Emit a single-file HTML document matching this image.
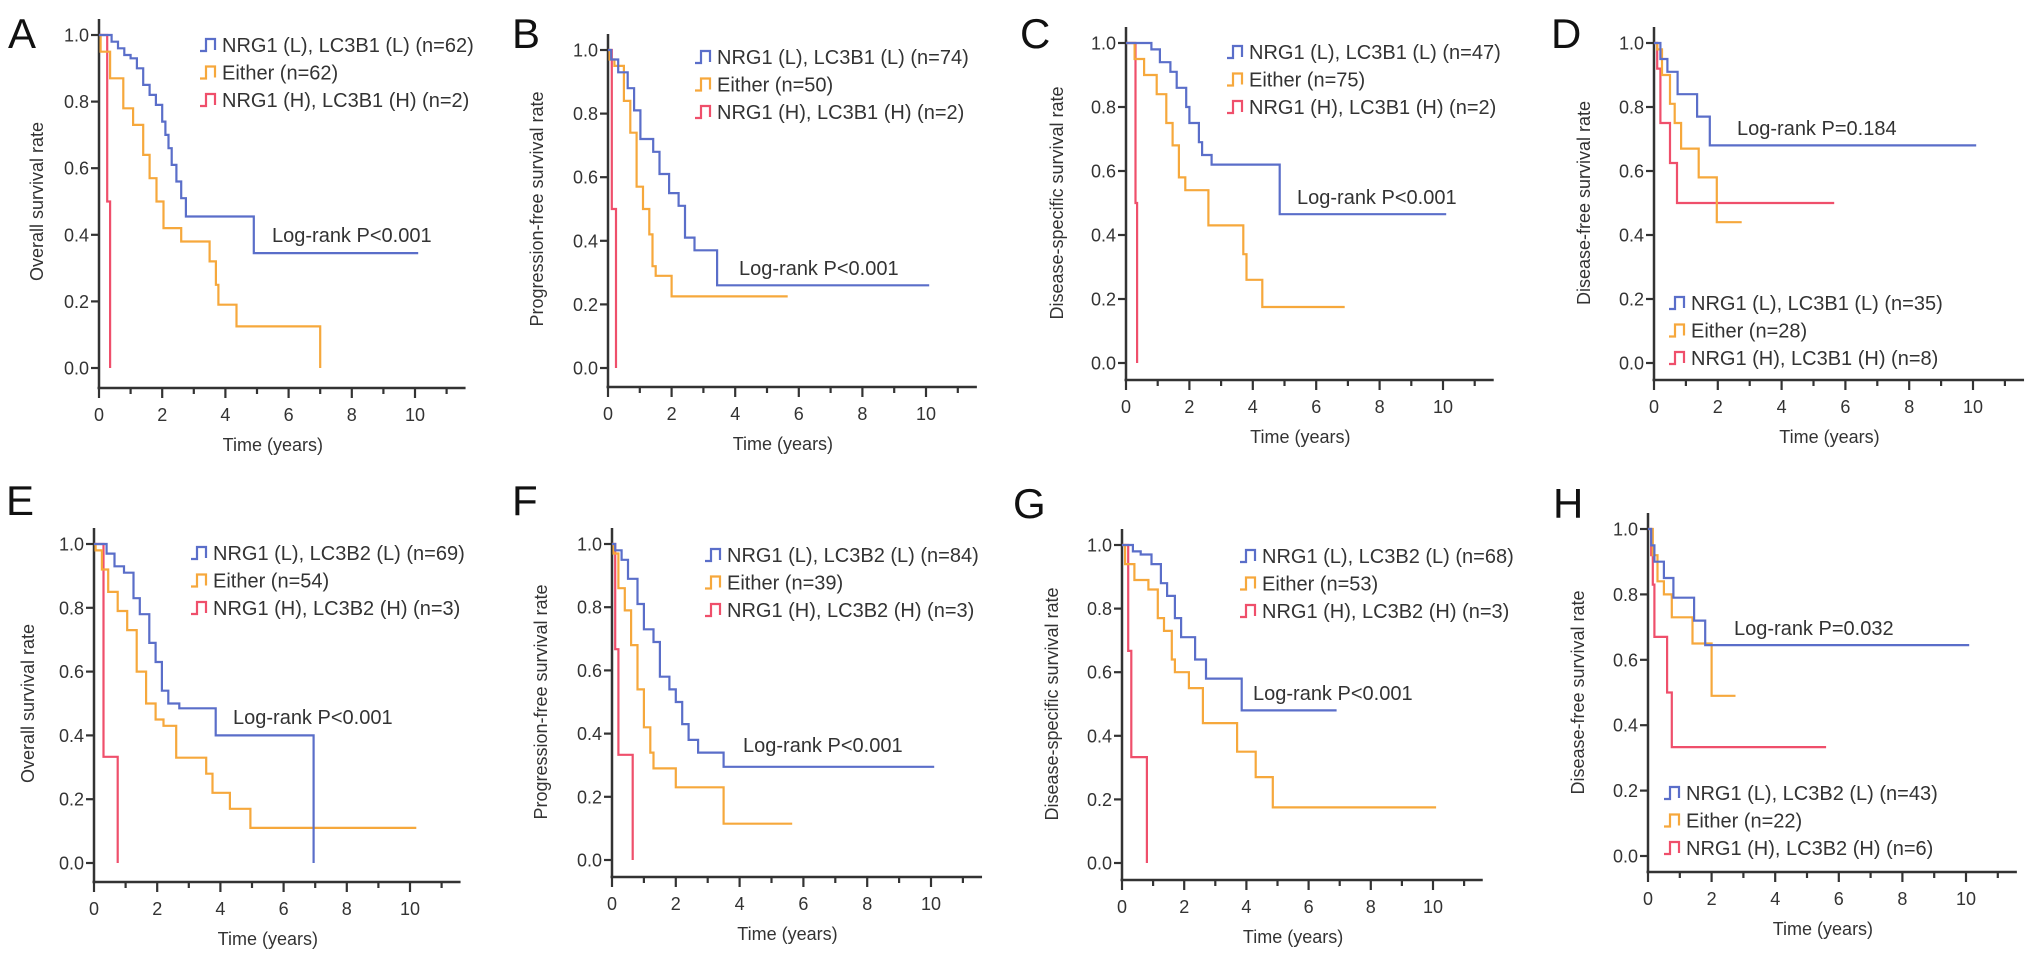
<!DOCTYPE html>
<html><head><meta charset="utf-8">
<style>
html,body{margin:0;padding:0;background:#fff;}
svg{display:block;font-family:"Liberation Sans",Arial,sans-serif;}
</style></head>
<body>
<svg id="fig" width="2032" height="962" viewBox="0 0 2032 962" xmlns="http://www.w3.org/2000/svg"></svg>
<script>
// ---- Data (time in years, survival rate) ----
const A_blue_t=[0,0.4,0.6,0.8,1.0,1.2,1.4,1.6,1.8,2.0,2.1,2.2,2.3,2.45,2.6,2.75,4.9,10.1];
const A_blue_s=[1,0.98,0.96,0.94,0.93,0.90,0.85,0.82,0.79,0.74,0.70,0.66,0.61,0.56,0.51,0.455,0.345,0.345];
const A_orange_t=[0,0.05,0.35,0.77,1.08,1.4,1.6,1.82,2.04,2.6,3.5,3.7,3.78,4.35,7.0];
const A_orange_s=[1,0.95,0.87,0.78,0.73,0.64,0.57,0.5,0.42,0.38,0.32,0.25,0.19,0.125,0];
const A_red_t=[0,0.26,0.35];
const A_red_s=[1,0.5,0];

const B_blue_t=[0,0.1,0.32,0.62,0.82,1.02,1.42,1.62,1.92,2.22,2.42,2.72,3.43,10.1];
const B_blue_s=[1,0.97,0.93,0.88,0.81,0.72,0.68,0.61,0.55,0.51,0.41,0.37,0.26,0.26];
const B_orange_t=[0,0.05,0.2,0.5,0.7,0.9,1.1,1.3,1.4,1.5,2.0,5.65];
const B_orange_s=[1,0.97,0.95,0.84,0.74,0.57,0.5,0.42,0.32,0.29,0.225,0.225];
const B_red_t=[0,0.12,0.25];
const B_red_s=[1,0.5,0];

const C_blue_t=[0,0.8,1.07,1.4,1.6,1.9,2.0,2.3,2.4,2.7,4.85,10.1];
const C_blue_s=[1,0.98,0.94,0.91,0.86,0.8,0.75,0.69,0.65,0.62,0.465,0.465];
const C_orange_t=[0,0.27,0.57,0.97,1.27,1.47,1.67,1.87,2.6,3.7,3.8,4.3,6.9];
const C_orange_s=[1,0.95,0.9,0.84,0.75,0.68,0.58,0.54,0.43,0.34,0.26,0.175,0.175];
const C_red_t=[0,0.3,0.35];
const C_red_s=[1,0.5,0];

const D_blue_t=[0,0.2,0.42,0.74,1.35,1.75,10.1];
const D_blue_s=[1,0.95,0.91,0.84,0.77,0.68,0.68];
const D_orange_t=[0,0.1,0.25,0.5,0.65,0.85,1.4,1.97,2.75];
const D_orange_s=[1,0.98,0.9,0.81,0.75,0.67,0.58,0.44,0.44];
const D_red_t=[0,0.1,0.2,0.5,0.72,5.65];
const D_red_s=[1,0.92,0.75,0.625,0.5,0.5];

const E_blue_t=[0,0.4,0.65,0.95,1.25,1.45,1.75,1.95,2.15,2.35,2.7,3.85,6.95];
const E_blue_s=[1,0.97,0.93,0.91,0.83,0.78,0.69,0.63,0.54,0.5,0.485,0.40,0];
const E_orange_t=[0,0.05,0.25,0.45,0.75,1.05,1.35,1.65,1.95,2.2,2.6,3.55,3.75,4.3,4.95,10.2];
const E_orange_s=[1,0.98,0.92,0.85,0.79,0.73,0.6,0.5,0.45,0.43,0.33,0.28,0.22,0.17,0.11,0.11];
const E_red_t=[0,0.3,0.75];
const E_red_s=[1,0.333,0];

const F_blue_t=[0,0.1,0.3,0.5,0.8,1.0,1.3,1.5,1.8,2.0,2.2,2.4,2.7,3.5,10.1];
const F_blue_s=[1,0.98,0.95,0.89,0.81,0.73,0.69,0.58,0.54,0.5,0.43,0.38,0.34,0.295,0.295];
const F_orange_t=[0,0.05,0.2,0.4,0.6,0.8,1.0,1.2,1.3,2.0,3.5,5.65];
const F_orange_s=[1,0.97,0.86,0.79,0.68,0.54,0.42,0.34,0.29,0.23,0.115,0.115];
const F_red_t=[0,0.1,0.2,0.65];
const F_red_s=[1,0.667,0.333,0];

const G_blue_t=[0,0.35,0.6,0.95,1.25,1.45,1.7,1.9,2.1,2.35,2.7,3.85,6.9];
const G_blue_s=[1,0.98,0.97,0.94,0.88,0.84,0.77,0.71,0.71,0.64,0.58,0.48,0.48];
const G_orange_t=[0,0.1,0.4,0.85,1.15,1.35,1.6,1.7,2.15,2.6,3.7,4.3,4.85,10.1];
const G_orange_s=[1,0.94,0.89,0.86,0.77,0.73,0.64,0.6,0.55,0.44,0.35,0.27,0.175,0.175];
const G_red_t=[0,0.2,0.3,0.8];
const G_red_s=[1,0.667,0.333,0];

const H_blue_t=[0,0.1,0.2,0.5,0.8,1.45,1.8,10.1];
const H_blue_s=[1,0.95,0.9,0.85,0.79,0.72,0.645,0.645];
const H_orange_t=[0,0.15,0.3,0.5,0.75,1.4,2.0,2.75];
const H_orange_s=[1,0.92,0.84,0.8,0.73,0.65,0.49,0.49];
const H_red_t=[0,0.1,0.15,0.2,0.6,0.75,5.6];
const H_red_s=[1,0.92,0.83,0.67,0.5,0.333,0.333];

const xTickLabels=["0","2","4","6","8","10"];
const yTickLabels=["0.0","0.2","0.4","0.6","0.8","1.0"];

const panels=[
 {id:"A",ylab:"Overall survival rate",leg:["NRG1 (L), LC3B1 (L) (n=62)","Either (n=62)","NRG1 (H), LC3B1 (H) (n=2)"],p:"Log-rank P<0.001",
  data:[[A_blue_t,A_blue_s],[A_orange_t,A_orange_s],[A_red_t,A_red_s]]},
 {id:"B",ylab:"Progression-free survival rate",leg:["NRG1 (L), LC3B1 (L) (n=74)","Either (n=50)","NRG1 (H), LC3B1 (H) (n=2)"],p:"Log-rank P<0.001",
  data:[[B_blue_t,B_blue_s],[B_orange_t,B_orange_s],[B_red_t,B_red_s]]},
 {id:"C",ylab:"Disease-specific survival rate",leg:["NRG1 (L), LC3B1 (L) (n=47)","Either (n=75)","NRG1 (H), LC3B1 (H) (n=2)"],p:"Log-rank P<0.001",
  data:[[C_blue_t,C_blue_s],[C_orange_t,C_orange_s],[C_red_t,C_red_s]]},
 {id:"D",ylab:"Disease-free survival rate",leg:["NRG1 (L), LC3B1 (L) (n=35)","Either (n=28)","NRG1 (H), LC3B1 (H) (n=8)"],p:"Log-rank P=0.184",
  data:[[D_blue_t,D_blue_s],[D_orange_t,D_orange_s],[D_red_t,D_red_s]]},
 {id:"E",ylab:"Overall survival rate",leg:["NRG1 (L), LC3B2 (L) (n=69)","Either (n=54)","NRG1 (H), LC3B2 (H) (n=3)"],p:"Log-rank P<0.001",
  data:[[E_blue_t,E_blue_s],[E_orange_t,E_orange_s],[E_red_t,E_red_s]]},
 {id:"F",ylab:"Progression-free survival rate",leg:["NRG1 (L), LC3B2 (L) (n=84)","Either (n=39)","NRG1 (H), LC3B2 (H) (n=3)"],p:"Log-rank P<0.001",
  data:[[F_blue_t,F_blue_s],[F_orange_t,F_orange_s],[F_red_t,F_red_s]]},
 {id:"G",ylab:"Disease-specific survival rate",leg:["NRG1 (L), LC3B2 (L) (n=68)","Either (n=53)","NRG1 (H), LC3B2 (H) (n=3)"],p:"Log-rank P<0.001",
  data:[[G_blue_t,G_blue_s],[G_orange_t,G_orange_s],[G_red_t,G_red_s]]},
 {id:"H",ylab:"Disease-free survival rate",leg:["NRG1 (L), LC3B2 (L) (n=43)","Either (n=22)","NRG1 (H), LC3B2 (H) (n=6)"],p:"Log-rank P=0.032",
  data:[[H_blue_t,H_blue_s],[H_orange_t,H_orange_s],[H_red_t,H_red_s]]}
];
// layout (pixel geometry)
const layout={
 A:{x0:99,y1:35,y0:368,ax:388,ppy:31.6,letter:[8,48],ytx:38,leg:[200,45],pv:[272,235]},
 B:{x0:608,y1:50,y0:368,ax:387,ppy:31.8,letter:[512,48],ytx:538,leg:[695,57],pv:[739,268]},
 C:{x0:1126,y1:43,y0:363,ax:380,ppy:31.7,letter:[1020,48],ytx:1058,leg:[1227,52],pv:[1297,197]},
 D:{x0:1654,y1:43,y0:363,ax:380,ppy:31.9,letter:[1551,48],ytx:1585,leg:[1669,303],pv:[1737,128]},
 E:{x0:94,y1:544,y0:863,ax:882,ppy:31.6,letter:[6,515],ytx:29,leg:[191,553],pv:[233,717]},
 F:{x0:612,y1:544,y0:860,ax:877,ppy:31.9,letter:[512,515],ytx:542,leg:[705,555],pv:[743,745]},
 G:{x0:1122,y1:545,y0:863,ax:880,ppy:31.1,letter:[1013,518],ytx:1053,leg:[1240,556],pv:[1253,693]},
 H:{x0:1648,y1:529,y0:856,ax:872,ppy:31.8,letter:[1553,518],ytx:1579,leg:[1664,793],pv:[1734,628]}
};
const colors=["#5a6ec9","#f6a83c","#ef4f6b"];
const sNames=["nrg1-low-lc3b-low","either","nrg1-high-lc3b-high"];
const svg=document.getElementById("fig");
const NS="http://www.w3.org/2000/svg";
function mk(tag,attrs,parent){const e=document.createElementNS(NS,tag);for(const k in attrs)e.setAttribute(k,attrs[k]);(parent||svg).appendChild(e);return e;}

panels.forEach(P=>{
  const L=layout[P.id];
  const X=t=>L.x0+t*L.ppy;
  const Y=v=>L.y0-(L.y0-L.y1)*v;
  const g=mk("g",{});
  
  
  const lt=mk("text",{x:L.letter[0],y:L.letter[1],"font-size":42,fill:"#111"},g);
  lt.textContent=P.id;
  
  
  const xe=X(11.6);
  const xa=mk("line",{x1:L.x0-1.5,y1:L.ax,x2:xe,y2:L.ax,stroke:"#333","stroke-width":2.5},g);
  
  
  const ya=mk("line",{x1:L.x0,y1:L.ax+1,x2:L.x0,y2:L.y1-16,stroke:"#333","stroke-width":2.5},g);
  
  
  for(let k=0;k<=11;k++){
    const major=k%2===0;
    mk("line",{x1:X(k),y1:L.ax,x2:X(k),y2:L.ax+(major?10:6),stroke:"#333","stroke-width":2.2},g);
    if(major){
      const tx=mk("text",{x:X(k),y:L.ax+33,"font-size":18,"text-anchor":"middle",fill:"#333"},g);
      tx.textContent=xTickLabels[k/2];
      
      
    }
  }
  yTickLabels.forEach((lab,i)=>{
    const v=i*0.2;
    mk("line",{x1:L.x0-8,y1:Y(v),x2:L.x0,y2:Y(v),stroke:"#333","stroke-width":2.2},g);
    const ty=mk("text",{x:L.x0-10,y:Y(v)+6.5,"font-size":18,"text-anchor":"end",fill:"#333"},g);
    ty.textContent=lab;
    
    
  });
  const xt=mk("text",{x:X(5.5),y:L.ax+63,"font-size":18,"text-anchor":"middle",fill:"#333"},g);
  xt.textContent="Time (years)";
  
  
  const yc=(L.y0+L.y1)/2;
  const yt=mk("text",{x:L.ytx,y:yc,"font-size":18,"text-anchor":"middle",fill:"#333",
    transform:`rotate(-90 ${L.ytx} ${yc})`,"dominant-baseline":"middle"},g);
  yt.textContent=P.ylab;
  
  
  [2,1,0].forEach(si=>{
    const [tt,ss]=P.data[si];
    let d=`M${X(tt[0]).toFixed(1)},${Y(ss[0]).toFixed(1)}`;
    for(let i=1;i<tt.length;i++){d+=` H${X(tt[i]).toFixed(1)} V${Y(ss[i]).toFixed(1)}`;}
    const p=mk("path",{d:d,fill:"none",stroke:colors[si],"stroke-width":2.2},g);
    
    
  });
  P.leg.forEach((txt,i)=>{
    const lx=L.leg[0], ly=L.leg[1]+i*27.5;
    const lg=mk("g",{},g);
    
    
    mk("path",{d:`M${lx},${ly+6} H${lx+6} V${ly-6} H${lx+15} V${ly+5}`,fill:"none",stroke:colors[i],"stroke-width":2.2},lg);
    const t=mk("text",{x:lx+22,y:ly+7,"font-size":20,fill:"#333"},lg);
    t.textContent=txt;
  });
  const pv=mk("text",{x:L.pv[0],y:L.pv[1]+7,"font-size":20,fill:"#333"},g);
  pv.textContent=P.p;
  
  
});
</script>
</body></html>
